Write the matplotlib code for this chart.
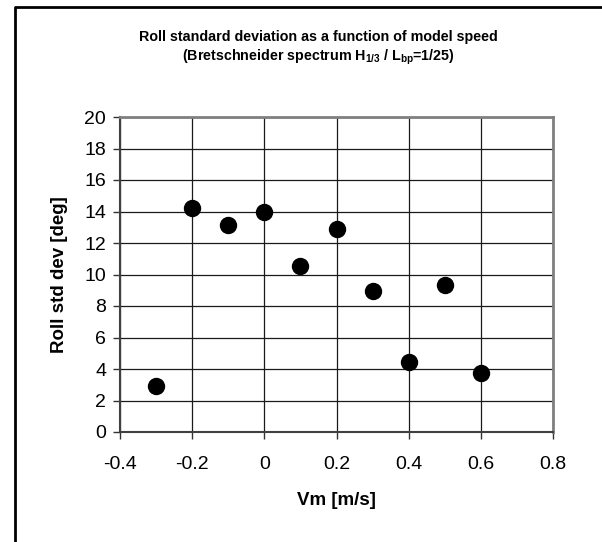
import matplotlib
matplotlib.use("Agg")
import matplotlib.pyplot as plt
from matplotlib.lines import Line2D

plt.rcParams['font.family'] = ['Liberation Sans', 'DejaVu Sans']
plt.rcParams['mathtext.fontset'] = 'custom'
plt.rcParams['mathtext.rm'] = 'Liberation Sans'
plt.rcParams['mathtext.bf'] = 'Liberation Sans:bold'

# model speed [m/s] and roll standard deviation [deg]
speed = [-0.3, -0.2, -0.1, 0.0, 0.1, 0.2, 0.3, 0.4, 0.5, 0.6]
roll_std = [2.92, 14.2, 13.15, 13.95, 10.52, 12.88, 8.97, 4.42, 9.36, 3.72]

x_ticks = [-0.4, -0.2, 0, 0.2, 0.4, 0.6, 0.8]
x_labels = ['-0.4', '-0.2', '0', '0.2', '0.4', '0.6', '0.8']
y_ticks = list(range(0, 21, 2))

fig = plt.figure(figsize=(6.02, 5.42), dpi=100)
ax = fig.add_axes([120 / 602, 1 - 432 / 542, 433 / 602, 315 / 542])

ax.plot(speed, roll_std, 'o', color='black', markersize=11.5, zorder=3,
        clip_on=False)

ax.set_xlim(-0.4, 0.8)
ax.set_ylim(0, 20)
ax.set_xticks(x_ticks)
ax.set_xticklabels(x_labels)
ax.set_yticks(y_ticks)
ax.grid(True, color='#1a1a1a', linewidth=0.9)
ax.set_axisbelow(True)
ax.tick_params(direction='out', length=5, width=1, labelsize=14,
               color='#333333', pad=5)
ax.tick_params(axis='x', pad=12)

for side in ['top', 'right']:
    ax.spines[side].set_color('#808080')
    ax.spines[side].set_linewidth(2)
for side in ['left', 'bottom']:
    ax.spines[side].set_color('#404040')
    ax.spines[side].set_linewidth(1.5)

ax.set_xlabel('Vm [m/s]', fontsize=13.5, fontweight='bold', labelpad=14)
ax.set_ylabel('Roll std dev [deg]', fontsize=13.5, fontweight='bold', labelpad=12)

fig.text(318 / 602, 1 - 37 / 542,
         'Roll standard deviation as a function of model speed',
         ha='center', va='center', fontsize=10.3, fontweight='bold')
fig.text(318 / 602, 1 - 57 / 542,
         r'(Bretschneider spectrum $\mathbf{H_{1/3}}$ / $\mathbf{L_{bp}}$=1/25)',
         ha='center', va='center', fontsize=10.3, fontweight='bold')

# outer chart frame (left and top edges visible)
fig.add_artist(Line2D([15 / 602, 15 / 602, 1.0], [0.0, 1 - 7 / 542, 1 - 7 / 542],
                      transform=fig.transFigure, color='black', linewidth=2))

fig.savefig('out.png', dpi=100)
